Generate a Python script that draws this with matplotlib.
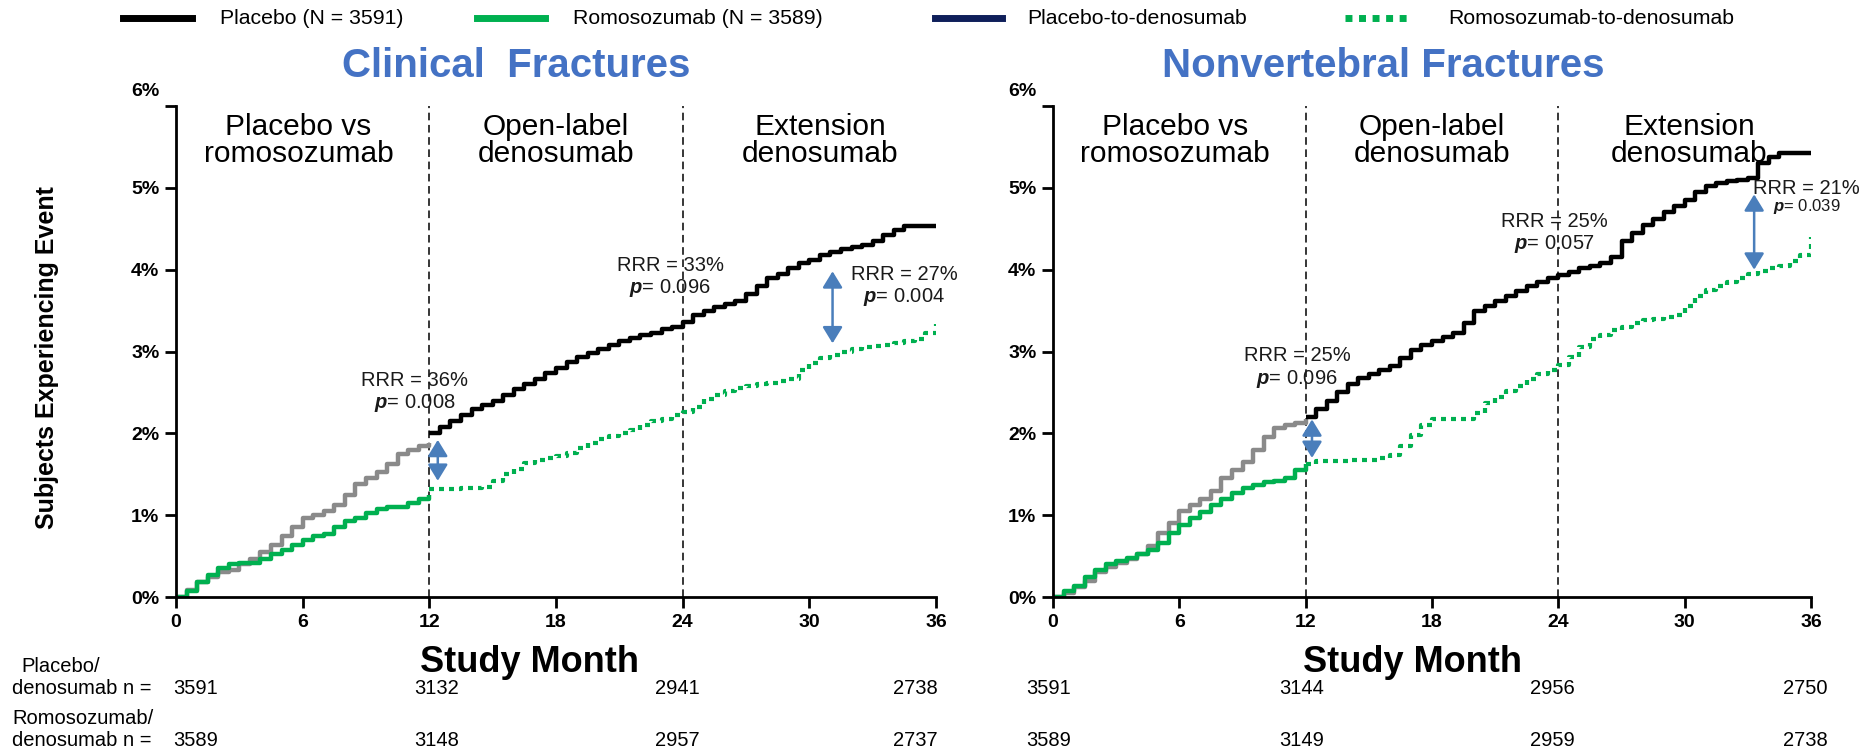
import matplotlib
matplotlib.use('Agg')
import matplotlib.pyplot as plt
from matplotlib.lines import Line2D
from matplotlib.transforms import ScaledTranslation

plt.rcParams['font.family'] = ['Liberation Sans', 'DejaVu Sans']
plt.rcParams['mathtext.fontset'] = 'custom'
plt.rcParams['mathtext.it'] = 'Liberation Sans:italic:bold'
plt.rcParams['mathtext.rm'] = 'Liberation Sans'

# study month grids
months_early = [0, 0.5, 1, 1.5, 2, 2.5, 3, 3.5, 4, 4.5, 5, 5.5, 6, 6.5, 7, 7.5,
                8, 8.5, 9, 9.5, 10, 10.5, 11, 11.5, 12]
months_late = [12, 12.5, 13, 13.5, 14, 14.5, 15, 15.5, 16, 16.5, 17, 17.5, 18,
               18.5, 19, 19.5, 20, 20.5, 21, 21.5, 22, 22.5, 23, 23.5, 24, 24.5,
               25, 25.5, 26, 26.5, 27, 27.5, 28, 28.5, 29, 29.5, 30, 30.5, 31,
               31.5, 32, 32.5, 33, 33.5, 34, 34.5, 35, 35.5, 36]

# clinical fractures (% of subjects)
clin_pbo_early = [0, 0.08, 0.18, 0.25, 0.3, 0.33, 0.4, 0.47, 0.55, 0.63, 0.75,
                  0.85, 0.97, 1.0, 1.05, 1.12, 1.25, 1.38, 1.45, 1.53, 1.62,
                  1.75, 1.8, 1.84, 1.88]
clin_romo_early = [0, 0.07, 0.18, 0.27, 0.35, 0.4, 0.41, 0.42, 0.47, 0.52, 0.57,
                   0.63, 0.7, 0.75, 0.77, 0.85, 0.93, 0.97, 1.03, 1.08, 1.1, 1.1,
                   1.15, 1.2, 1.25]
clin_pbo_late = [2.0, 2.08, 2.15, 2.23, 2.3, 2.35, 2.4, 2.47, 2.54, 2.6, 2.67,
                 2.74, 2.8, 2.87, 2.93, 2.98, 3.03, 3.08, 3.13, 3.17, 3.2, 3.23,
                 3.27, 3.3, 3.36, 3.45, 3.5, 3.54, 3.58, 3.62, 3.7, 3.8, 3.9,
                 3.95, 4.02, 4.08, 4.12, 4.18, 4.22, 4.25, 4.28, 4.3, 4.35, 4.42,
                 4.48, 4.53, 4.53, 4.53, 4.53]
clin_romo_late = [1.32, 1.32, 1.32, 1.33, 1.33, 1.34, 1.42, 1.5, 1.56, 1.64,
                  1.68, 1.7, 1.72, 1.76, 1.82, 1.88, 1.93, 1.97, 2.0, 2.04, 2.1,
                  2.15, 2.18, 2.22, 2.26, 2.32, 2.42, 2.47, 2.52, 2.55, 2.58, 2.6,
                  2.62, 2.64, 2.67, 2.78, 2.86, 2.92, 2.96, 3.0, 3.03, 3.05, 3.07,
                  3.08, 3.1, 3.13, 3.15, 3.22, 3.34]

# nonvertebral fractures (% of subjects)
nonv_pbo_early = [0, 0.05, 0.12, 0.2, 0.3, 0.37, 0.42, 0.47, 0.52, 0.62, 0.78,
                  0.9, 1.05, 1.12, 1.2, 1.3, 1.45, 1.55, 1.65, 1.8, 1.95, 2.06,
                  2.1, 2.13, 2.17]
nonv_romo_early = [0, 0.07, 0.14, 0.24, 0.33, 0.4, 0.44, 0.48, 0.52, 0.58, 0.66,
                   0.78, 0.88, 0.97, 1.04, 1.12, 1.2, 1.27, 1.33, 1.37, 1.4,
                   1.42, 1.45, 1.55, 1.62]
nonv_pbo_late = [2.2, 2.3, 2.39, 2.5, 2.6, 2.68, 2.72, 2.77, 2.82, 2.92, 3.02,
                 3.08, 3.13, 3.18, 3.22, 3.35, 3.5, 3.56, 3.62, 3.68, 3.74, 3.8,
                 3.85, 3.9, 3.93, 3.97, 4.02, 4.05, 4.08, 4.15, 4.35, 4.45, 4.55,
                 4.62, 4.7, 4.78, 4.85, 4.95, 5.02, 5.06, 5.08, 5.09, 5.12, 5.3,
                 5.38, 5.43, 5.43, 5.43, 5.43]
nonv_romo_late = [1.62, 1.66, 1.66, 1.66, 1.67, 1.67, 1.68, 1.7, 1.74, 1.85,
                  1.98, 2.1, 2.17, 2.17, 2.17, 2.18, 2.25, 2.37, 2.45, 2.52, 2.58,
                  2.66, 2.72, 2.78, 2.84, 2.93, 3.05, 3.15, 3.2, 3.26, 3.3, 3.35,
                  3.38, 3.4, 3.42, 3.45, 3.55, 3.68, 3.75, 3.8, 3.85, 3.9, 3.95,
                  3.98, 4.02, 4.05, 4.1, 4.18, 4.4]

# RRR annotations: (rrr text, p value, month, %)
clin_notes = [('RRR = 36%', '0.008', 11.3, 2.65),
              ('RRR = 33%', '0.096', 23.4, 4.05),
              ('RRR = 27%', '0.004', 34.5, 3.94)]
clin_arrows = [(12.4, 1.92, 1.42), (31.1, 3.98, 3.1)]
nonv_notes = [('RRR = 25%', '0.096', 11.6, 2.95),
              ('RRR = 25%', '0.057', 23.8, 4.59),
              ('RRR = 21%', '0.039', 35.8, 4.99)]
nonv_arrows = [(12.3, 2.17, 1.7), (33.3, 4.92, 4.0)]

phases = ['Placebo vs\nromosozumab', 'Open-label\ndenosumab', 'Extension\ndenosumab']
clin_phase_x = [5.8, 18, 30.5]
nonv_phase_x = [5.8, 18, 30.2]

# numbers at risk
clin_n_pbo = ['3591', '3132', '2941', '2738']
clin_n_romo = ['3589', '3148', '2957', '2737']
nonv_n_pbo = ['3591', '3144', '2956', '2750']
nonv_n_romo = ['3589', '3149', '2959', '2738']
clin_n_x = [173, 414, 655, 893]
nonv_n_x = [1026, 1279, 1530, 1783]

BLACK = '#000000'
GRAY = '#8a8a8a'
GREEN = '#00b050'
NAVY = '#0f1f5a'
BLUE = '#4a7ebb'
TITLE = '#4472c4'

W, H = 1867, 748
fig = plt.figure(figsize=(W / 100, H / 100), dpi=100)


def draw_panel(ax, pbo_e, romo_e, pbo_l, romo_l, notes, arrows, phase_x):
    ax.step(months_early, pbo_e, where='post', color=GRAY, lw=3.2,
            solid_capstyle='butt')
    ax.step(months_early, romo_e, where='post', color=GREEN, lw=3.2,
            solid_capstyle='butt')
    ax.step(months_late, pbo_l, where='post', color=BLACK, lw=3.2,
            solid_capstyle='butt')
    ax.step(months_late, romo_l, where='post', color=GREEN, lw=3.0,
            linestyle=(0, (1.2, 1.2)))
    for m in [12, 24]:
        ax.axvline(m, color='black', lw=1.1, linestyle=(0, (5, 3)), zorder=1)
    for label, xm in zip(phases, phase_x):
        ax.text(xm, 5.58, label, ha='center', va='center', fontsize=21.5,
                linespacing=0.95)
    for i, (rrr, pv, xm, ym) in enumerate(notes):
        small = i == 2 and ym > 4.9
        ax.text(xm, ym, rrr, ha='center', va='center', fontsize=14.5,
                color='#1a1a1a')
        ax.text(xm, ym - (0.22 if small else 0.28), r'$\it{p}$= ' + pv,
                ha='center', va='center', fontsize=12 if small else 14.5,
                color='#1a1a1a')
    for xm, y1, y2 in arrows:
        ax.annotate('', xy=(xm, y2), xytext=(xm, y1),
                    arrowprops=dict(arrowstyle='<|-|>,head_length=0.9,head_width=0.55',
                                    color=BLUE, lw=1.8, shrinkA=0, shrinkB=0,
                                    mutation_scale=11))
    ax.set_xlim(0, 36)
    ax.set_ylim(0, 6)
    ax.set_xticks([0, 6, 12, 18, 24, 30, 36])
    ax.set_yticks([0, 1, 2, 3, 4, 5, 6])
    ax.set_yticklabels(['0%', '1%', '2%', '3%', '4%', '5%', '6%'])
    ax.tick_params(direction='out', length=8, width=2, pad=4)
    for lab in ax.get_xticklabels() + ax.get_yticklabels():
        lab.set_fontweight('bold')
        lab.set_fontsize(14)
    top = ax.get_yticklabels()[-1]
    top.set_transform(top.get_transform() +
                      ScaledTranslation(0, 12 / 72, fig.dpi_scale_trans))
    for s in ['top', 'right']:
        ax.spines[s].set_visible(False)
    for s in ['left', 'bottom']:
        ax.spines[s].set_linewidth(2)


ax1 = fig.add_axes([176 / W, 151 / H, 760 / W, 491 / H])
ax2 = fig.add_axes([1053 / W, 151 / H, 758 / W, 491 / H])
draw_panel(ax1, clin_pbo_early, clin_romo_early, clin_pbo_late, clin_romo_late,
           clin_notes, clin_arrows, clin_phase_x)
draw_panel(ax2, nonv_pbo_early, nonv_romo_early, nonv_pbo_late, nonv_romo_late,
           nonv_notes, nonv_arrows, nonv_phase_x)

fig.text(516 / W, 1 - 66 / H, 'Clinical  Fractures', color=TITLE, fontsize=29,
         fontweight='bold', ha='center', va='center')
fig.text(1383 / W, 1 - 66 / H, 'Nonvertebral Fractures', color=TITLE, fontsize=29,
         fontweight='bold', ha='center', va='center')
fig.text(47 / W, 1 - 358 / H, 'Subjects Experiencing Event', rotation=90,
         fontsize=18, fontweight='bold', ha='center', va='center')
for cx in [530, 1412]:
    fig.text(cx / W, 1 - 662 / H, 'Study Month', fontsize=26,
             fontweight='bold', ha='center', va='center')

# legend across the top
legend_items = [(123, 192, BLACK, '-', 220, 'Placebo (N = 3591)'),
                (477, 545, GREEN, '-', 573, 'Romosozumab (N = 3589)'),
                (935, 1002, NAVY, '-', 1027, 'Placebo-to-denosumab'),
                (1345, 1412, GREEN, ':', 1448, 'Romosozumab-to-denosumab')]
for x0, x1, col, ls, tx, txt in legend_items:
    yy = 1 - 18 / H
    if ls == ':':
        line = Line2D([x0 / W, x1 / W], [yy, yy], color=col, lw=5,
                      linestyle=(0, (1, 0.95)), transform=fig.transFigure)
    else:
        line = Line2D([x0 / W, x1 / W], [yy, yy], color=col, lw=5,
                      transform=fig.transFigure)
    fig.add_artist(line)
    fig.text(tx / W, yy, txt, fontsize=15.3, ha='left', va='center')

# numbers at risk table
fs_tab = 14.5
fig.text(21 / W, 1 - 667 / H, 'Placebo/', fontsize=fs_tab, va='center')
fig.text(12 / W, 1 - 688 / H, 'denosumab n =', fontsize=fs_tab, va='center')
fig.text(12 / W, 1 - 719 / H, 'Romosozumab/', fontsize=fs_tab, va='center')
fig.text(12 / W, 1 - 740 / H, 'denosumab n =', fontsize=fs_tab, va='center')
for xs, pbo, romo in [(clin_n_x, clin_n_pbo, clin_n_romo),
                      (nonv_n_x, nonv_n_pbo, nonv_n_romo)]:
    for x, a, b in zip(xs, pbo, romo):
        fig.text(x / W, 1 - 688 / H, a, fontsize=fs_tab, va='center')
        fig.text(x / W, 1 - 740 / H, b, fontsize=fs_tab, va='center')

fig.savefig('out.png', dpi=100)
